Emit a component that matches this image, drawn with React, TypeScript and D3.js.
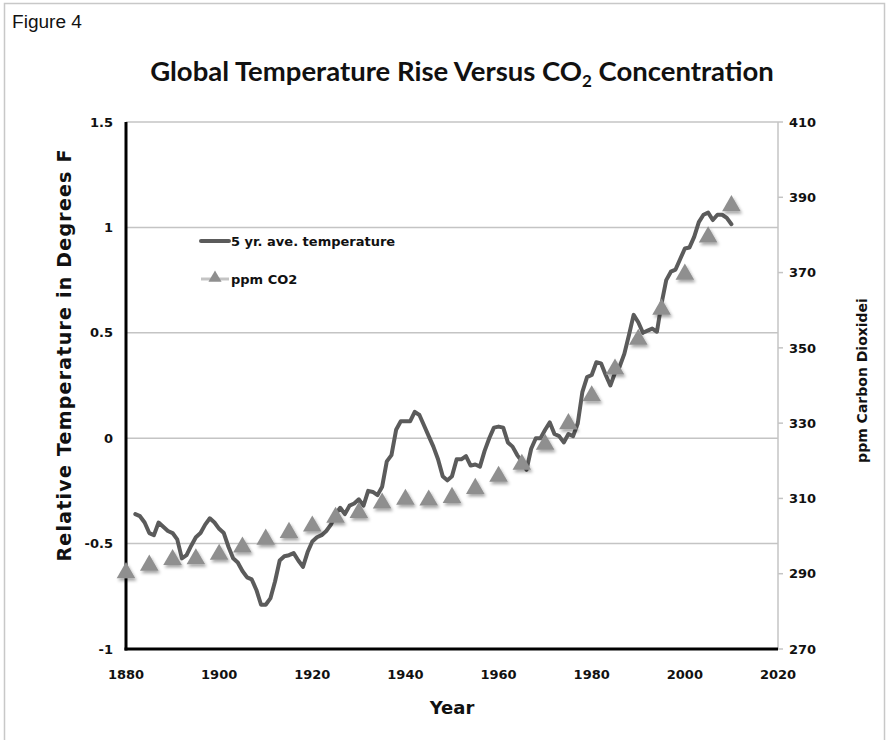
import React from 'react';
import * as d3 from 'd3';

// 5-year average temperature anomaly (deg F), one value per year from 1882
const tempStartYear = 1882;
const tempValues = [
  -0.36, -0.37, -0.4, -0.45, -0.46, -0.4, -0.42, -0.44, -0.45, -0.48,
  -0.57, -0.555, -0.51, -0.47, -0.45, -0.41, -0.38, -0.4, -0.43, -0.45,
  -0.515, -0.57, -0.59, -0.63, -0.66, -0.67, -0.72, -0.79, -0.79, -0.76,
  -0.68, -0.58, -0.56, -0.555, -0.545, -0.58, -0.61, -0.54, -0.49, -0.47,
  -0.46, -0.44, -0.41, -0.36, -0.33, -0.36, -0.32, -0.31, -0.29, -0.32,
  -0.25, -0.255, -0.27, -0.23, -0.11, -0.08, 0.04, 0.08, 0.08, 0.08,
  0.125, 0.11, 0.06, 0.01, -0.04, -0.1, -0.18, -0.2, -0.18, -0.1,
  -0.1, -0.085, -0.13, -0.125, -0.135, -0.06, 0.0, 0.05, 0.055, 0.05,
  -0.02, -0.04, -0.08, -0.11, -0.15, -0.05, 0.0, 0.0, 0.04, 0.075,
  0.02, 0.01, -0.02, 0.02, 0.01, 0.07, 0.22, 0.29, 0.3, 0.36,
  0.355, 0.3, 0.25, 0.31, 0.34, 0.4, 0.49, 0.585, 0.55, 0.5,
  0.51, 0.52, 0.505, 0.64, 0.75, 0.79, 0.8, 0.85, 0.9, 0.905,
  0.955, 1.025, 1.06, 1.07, 1.035, 1.06, 1.06, 1.045, 1.015,
];

// CO2 concentration (ppm), every 5 years
const co2Years = [
  1880, 1885, 1890, 1895, 1900, 1905, 1910, 1915, 1920, 1925, 1930, 1935, 1940, 1945,
  1950, 1955, 1960, 1965, 1970, 1975, 1980, 1985, 1990, 1995, 2000, 2005, 2010,
];
const co2Values = [
  290.5, 292.5, 294, 294.2, 295.4, 297.3, 299.4, 301.2, 302.9, 305.2, 306.5, 309, 310, 309.8,
  310.5, 312.9, 316.1, 319.3, 324.6, 330.1, 337.5, 344.6, 352.5, 360.5, 369.8, 379.7, 388,
];

const yearTicks = [1880, 1900, 1920, 1940, 1960, 1980, 2000, 2020];
const tempTicks = [-1, -0.5, 0, 0.5, 1, 1.5];
const co2Ticks = [270, 290, 310, 330, 350, 370, 390, 410];

const W = 888;
const H = 740;
const margin = { top: 122, right: 110, bottom: 91, left: 126 };

const tickFont = '"DejaVu Sans", Verdana, sans-serif';

export default function App() {
  const x = d3.scaleLinear().domain([1880, 2020]).range([margin.left, W - margin.right]);
  const yL = d3.scaleLinear().domain([-1, 1.5]).range([H - margin.bottom, margin.top]);
  const yR = d3.scaleLinear().domain([270, 410]).range([H - margin.bottom, margin.top]);

  const temps = tempValues.map((v, i) => ({ year: tempStartYear + i, v }));
  const line = d3
    .line<{ year: number; v: number }>()
    .x((d) => x(d.year))
    .y((d) => yL(d.v));

  const tri = d3.symbol(d3.symbolTriangle, 150)() as string;
  const triSmall = d3.symbol(d3.symbolTriangle, 75)() as string;

  const x0 = x(1880);
  const x1 = x(2020);
  const yBottom = yL(-1);
  const yTop = yL(1.5);

  return (
    <svg
      width={W}
      height={H}
      style={{ position: 'absolute', left: 0, top: 0, background: '#fff' }}
    >
      <defs>
        <filter id="shadow" x="-50%" y="-50%" width="200%" height="200%">
          <feDropShadow dx="1.5" dy="2.5" stdDeviation="1.6" floodColor="#000" floodOpacity="0.35" />
        </filter>
      </defs>

      {/* outer frame */}
      <rect x={4.5} y={3.5} width={880} height={760} fill="none" stroke="#c8c8c8" strokeWidth={1.5} />

      <text
        x={12}
        y={28}
        fontFamily='"Liberation Sans Narrow", "Liberation Sans", sans-serif'
        fontSize={18}
        textLength={70}
        lengthAdjust="spacingAndGlyphs"
        fill="#111"
      >
        Figure 4
      </text>

      <text
        x={462}
        y={81}
        textAnchor="middle"
        fontFamily='Lato, "Open Sans", sans-serif'
        fontWeight={700}
        fontSize={27.5}
        fill="#111"
      >
        Global Temperature Rise Versus CO
        <tspan fontSize={17} dy={6}>2</tspan>
        <tspan dy={-6}> Concentration</tspan>
      </text>

      {/* gridlines */}
      {tempTicks
        .filter((t) => t > -1)
        .map((t) => (
          <line key={t} x1={x0} x2={x1} y1={yL(t)} y2={yL(t)} stroke="#c4c4c4" strokeWidth={1.5} />
        ))}

      {/* right axis */}
      <line x1={x1} x2={x1} y1={yTop} y2={yBottom} stroke="#c4c4c4" strokeWidth={1.5} />
      {co2Ticks.map((t) => (
        <g key={t}>
          <line x1={x1} x2={x1 + 5} y1={yR(t)} y2={yR(t)} stroke="#c4c4c4" strokeWidth={1.5} />
          <text
            x={x1 + 11}
            y={yR(t)}
            dy="0.36em"
            fontFamily={tickFont}
            fontWeight={700}
            fontSize={13}
            fill="#111"
          >
            {t}
          </text>
        </g>
      ))}

      {/* left axis */}
      <line x1={x0} x2={x0} y1={yTop} y2={yBottom + 1.5} stroke="#000" strokeWidth={3} />
      {tempTicks.map((t) => (
        <text
          key={t}
          x={x0 - 13}
          y={yL(t)}
          dy="0.36em"
          textAnchor="end"
          fontFamily={tickFont}
          fontWeight={700}
          fontSize={13}
          fill="#111"
        >
          {t}
        </text>
      ))}

      {/* bottom axis */}
      <line x1={x0 - 1.5} x2={x1} y1={yBottom} y2={yBottom} stroke="#000" strokeWidth={3} />
      {yearTicks.map((t) => (
        <text
          key={t}
          x={x(t)}
          y={yBottom + 25}
          dy="0.36em"
          textAnchor="middle"
          fontFamily={tickFont}
          fontWeight={700}
          fontSize={13}
          fill="#111"
        >
          {t}
        </text>
      ))}

      {/* axis titles */}
      <text
        x={x((1880 + 2020) / 2)}
        y={714}
        textAnchor="middle"
        fontFamily={tickFont}
        fontWeight={700}
        fontSize={18}
        fill="#111"
      >
        Year
      </text>
      <text
        transform={`translate(64,${(yTop + yBottom) / 2 - 30}) rotate(-90)`}
        textAnchor="middle"
        dy="0.36em"
        fontFamily={tickFont}
        fontWeight={700}
        fontSize={19}
        textLength={412}
        lengthAdjust="spacing"
        fill="#111"
      >
        Relative Temperature in Degrees F
      </text>
      <text
        transform={`translate(862,${(yTop + yBottom) / 2 - 5}) rotate(-90)`}
        textAnchor="middle"
        dy="0.36em"
        fontFamily={tickFont}
        fontWeight={700}
        fontSize={14}
        fill="#111"
      >
        ppm Carbon Dioxidei
      </text>

      {/* temperature line */}
      <path
        d={line(temps) as string}
        fill="none"
        stroke="#5b5b5b"
        strokeWidth={4}
        strokeLinejoin="round"
        strokeLinecap="round"
      />

      {/* CO2 markers */}
      {co2Years.map((yr, i) => (
        <path
          key={yr}
          d={tri}
          transform={`translate(${x(yr)},${yR(co2Values[i]) + 1})`}
          fill="#8f8f8f"
          filter="url(#shadow)"
        />
      ))}

      {/* legend */}
      <g fontFamily={tickFont} fontWeight={700} fontSize={13} fill="#111">
        <line x1={201} x2={229} y1={241} y2={241} stroke="#5b5b5b" strokeWidth={4} strokeLinecap="round" />
        <text x={231} y={241} dy="0.36em">5 yr. ave. temperature</text>
        <line x1={201} x2={229} y1={279} y2={279} stroke="#c4c4c4" strokeWidth={3} />
        <path d={triSmall} transform="translate(215,278)" fill="#8f8f8f" />
        <text x={231} y={279} dy="0.36em">ppm CO2</text>
      </g>
    </svg>
  );
}
